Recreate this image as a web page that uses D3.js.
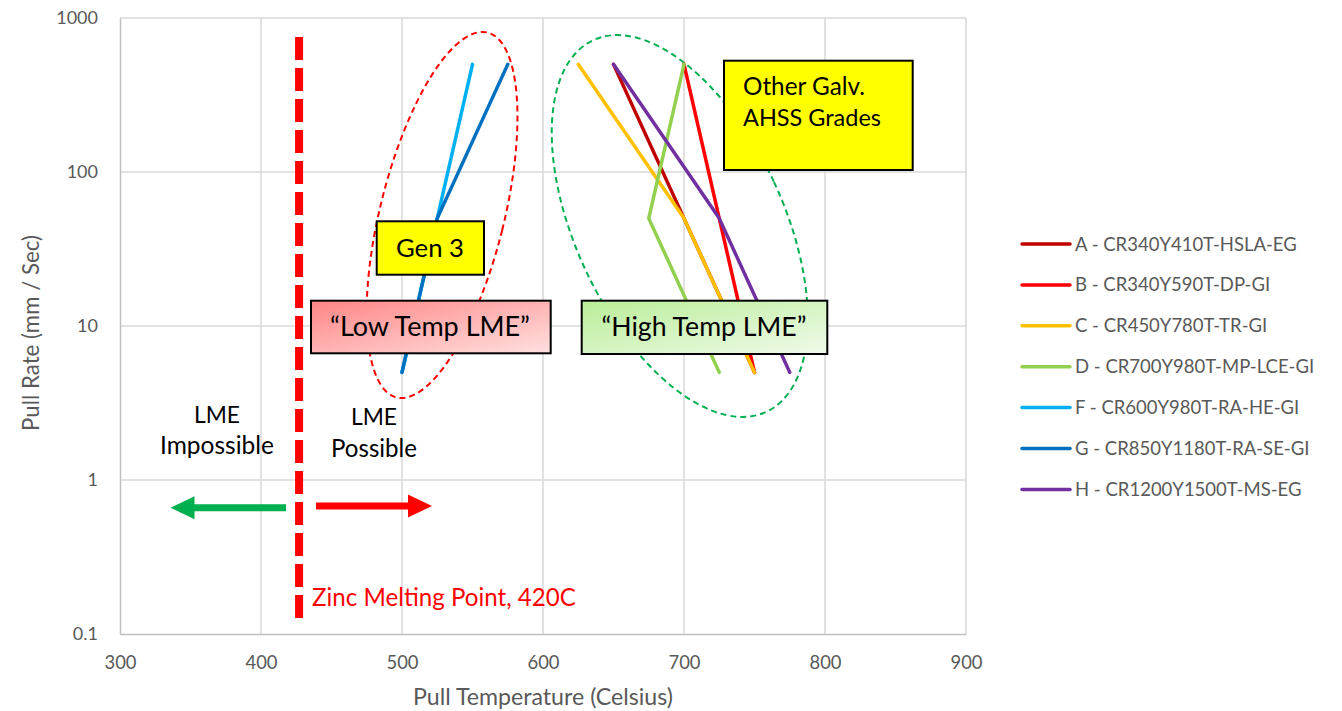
<!DOCTYPE html>
<html><head><meta charset="utf-8">
<script src="https://cdn.jsdelivr.net/npm/d3@7"></script>
<style>
html,body{margin:0;padding:0;background:#fff;}
svg{display:block;font-family:Lato,"Open Sans",sans-serif;}
</style></head>
<body>
<svg id="chart" width="1342" height="711"></svg>
<script>
// ---- data ----
const seriesNames = ["A - CR340Y410T-HSLA-EG","B - CR340Y590T-DP-GI","C - CR450Y780T-TR-GI","D - CR700Y980T-MP-LCE-GI","F - CR600Y980T-RA-HE-GI","G - CR850Y1180T-RA-SE-GI","H - CR1200Y1500T-MS-EG"];
const seriesColors = ["#c00000","#ff0000","#ffc000","#92d050","#00b0f0","#0070c0","#7030a0"];
const pullRates = [5, 50, 500];
const tempA = [750, 700, 650];
const tempB = [750, 725, 700];
const tempC = [750, 700, 625];
const tempD = [725, 675, 700];
const tempF = [500, 525, 550];
const tempG = [500, 525, 575];
const tempH = [775, 725, 650];
const seriesTemps = [tempA,tempB,tempC,tempD,tempF,tempG,tempH];
const xTicks = [300,400,500,600,700,800,900];
const yTicks = [0.1,1,10,100,1000];
const zincTemp = 427;

const svg = d3.select("#chart");
const x = d3.scaleLinear().domain([300,900]).range([120,966]);
const y = d3.scaleLog().domain([0.1,1000]).range([634,18]);

function fit(t, w){
  const base = 20;
  t.style("font-size", base+"px");
  const L = t.node().getComputedTextLength();
  t.style("font-size", (base*w/L)+"px");
  return t;
}

// gridlines
svg.append("g").selectAll("line.v").data(xTicks.slice(1)).join("line")
  .attr("x1",d=>x(d)).attr("x2",d=>x(d)).attr("y1",y(1000)).attr("y2",y(0.1))
  .attr("stroke","#d9d9d9").attr("stroke-width",1.5);
svg.append("g").selectAll("line.h").data(yTicks.slice(1)).join("line")
  .attr("x1",x(300)).attr("x2",x(900)).attr("y1",d=>y(d)).attr("y2",d=>y(d))
  .attr("stroke","#d9d9d9").attr("stroke-width",1.5);

// axes
const xAxis = svg.append("g").attr("transform",`translate(0,${y(0.1)})`)
  .call(d3.axisBottom(x).tickValues(xTicks).tickSize(0).tickPadding(0).tickFormat(d3.format("d")));
xAxis.select(".domain").attr("stroke","#bfbfbf").attr("stroke-width",1.5);
xAxis.selectAll("text").attr("fill","#595959").attr("dy",null).attr("y",35)
  .style("font-family","Lato").each(function(){fit(d3.select(this),32);});
const yAxis = svg.append("g").attr("transform",`translate(${x(300)},0)`)
  .call(d3.axisLeft(y).tickValues(yTicks).tickSize(0).tickPadding(22).tickFormat(d=>String(d)));
yAxis.select(".domain").attr("stroke","#bfbfbf").attr("stroke-width",1.5);
yAxis.selectAll("text").attr("fill","#595959").style("font-family","Lato").style("font-size","18px");

// axis titles
fit(svg.append("text").attr("x",543).attr("y",705).attr("text-anchor","middle")
  .attr("fill","#595959").text("Pull Temperature (Celsius)"), 260);
fit(svg.append("text").attr("transform","translate(39,333) rotate(-90)").attr("text-anchor","middle")
  .attr("fill","#595959").text("Pull Rate (mm / Sec)"), 196);

// ellipses (annotations)
function ellipse(cxT, cyR, rx, ry, ang, color){
  svg.append("ellipse").attr("cx",0).attr("cy",0).attr("rx",rx).attr("ry",ry)
    .attr("transform",`translate(${x(cxT)},${y(cyR)}) rotate(${ang})`)
    .attr("fill","none").attr("stroke",color).attr("stroke-width",2).attr("stroke-dasharray","6,4");
}
ellipse(528.4, 52.6, 62, 188, 14, "#ff0000");
ellipse(697, 44.6, 104, 205, -25, "#00b050");

// series lines
const line = d3.line().x(d=>x(d[0])).y(d=>y(d[1]));
seriesTemps.forEach((temps,i)=>{
  svg.append("path").datum(temps.map((t,j)=>[t,pullRates[j]]))
    .attr("d",line).attr("fill","none").attr("stroke",seriesColors[i])
    .attr("stroke-width",3.5).attr("stroke-linecap","round").attr("stroke-linejoin","round");
});

// zinc melting line
svg.append("line").attr("x1",x(zincTemp)).attr("x2",x(zincTemp)).attr("y1",37).attr("y2",622)
  .attr("stroke","#ff0000").attr("stroke-width",8).attr("stroke-dasharray","23,8");
fit(svg.append("text").attr("x",312).attr("y",606).attr("fill","#ff0000").text("Zinc Melting Point, 420C"),264);

// arrows
function arrow(x0,x1,yy,color){
  const dir = Math.sign(x1-x0), hl=24, hh=11.5, sh=3.5;
  const xb = x1 - dir*hl;
  const pts = [[x0,yy-sh],[xb,yy-sh],[xb,yy-hh],[x1,yy],[xb,yy+hh],[xb,yy+sh],[x0,yy+sh]];
  svg.append("path").attr("d","M"+pts.map(p=>p.join(",")).join("L")+"Z").attr("fill",color);
}
arrow(286,170.5,507.7,"#00b050");
arrow(316,432,506,"#ff0000");

// LME labels
fit(svg.append("text").attr("x",217).attr("y",423).attr("text-anchor","middle").attr("fill","#000").text("LME"),46);
fit(svg.append("text").attr("x",217).attr("y",454).attr("text-anchor","middle").attr("fill","#000").text("Impossible"),114);
fit(svg.append("text").attr("x",374).attr("y",425).attr("text-anchor","middle").attr("fill","#000").text("LME"),46);
fit(svg.append("text").attr("x",374).attr("y",457).attr("text-anchor","middle").attr("fill","#000").text("Possible"),86);

// gradients
const defs = svg.append("defs");
const gR = defs.append("linearGradient").attr("id","gRed").attr("x1","0").attr("y1","0").attr("x2","1").attr("y2","1");
gR.append("stop").attr("offset","0").attr("stop-color","#ff8585");
gR.append("stop").attr("offset","1").attr("stop-color","#ffe0e0");
const gG = defs.append("linearGradient").attr("id","gGreen").attr("x1","0").attr("y1","0").attr("x2","1").attr("y2","1");
gG.append("stop").attr("offset","0").attr("stop-color","#b9ee98");
gG.append("stop").attr("offset","1").attr("stop-color","#f0faea");

function box(x0,y0,x1,y1,fill){
  svg.append("rect").attr("x",x0).attr("y",y0).attr("width",x1-x0).attr("height",y1-y0)
    .attr("fill",fill).attr("stroke","#000").attr("stroke-width",2);
}
box(376.7,221.3,484,274.7,"#ffff00");
fit(svg.append("text").attr("x",430).attr("y",257).attr("text-anchor","middle").text("Gen 3"),68);
box(311,300.7,550.7,353.3,"url(#gRed)");
fit(svg.append("text").attr("x",430).attr("y",336).attr("text-anchor","middle").text("\u201CLow Temp LME\u201D"),200);
box(581.7,300.7,827.3,354,"url(#gGreen)");
fit(svg.append("text").attr("x",704).attr("y",336).attr("text-anchor","middle").text("\u201CHigh Temp LME\u201D"),205);
box(724,60.7,912.7,170,"#ffff00");
fit(svg.append("text").attr("x",743).attr("y",95).text("Other Galv."),122);
fit(svg.append("text").attr("x",743).attr("y",126).text("AHSS Grades"),138);

// legend
const lg = svg.append("g");
let legendSize = null;
seriesNames.forEach((name,i)=>{
  const yy = 244 + i*40.9;
  lg.append("line").attr("x1",1022).attr("x2",1070).attr("y1",yy).attr("y2",yy)
    .attr("stroke",seriesColors[i]).attr("stroke-width",3.5).attr("stroke-linecap","round");
  const t = lg.append("text").attr("x",1075).attr("y",yy+6.5).attr("fill","#595959").text(name);
  if (legendSize === null) { fit(t, 222); legendSize = t.style("font-size"); }
  else t.style("font-size", legendSize);
});
</script>
</body></html>
